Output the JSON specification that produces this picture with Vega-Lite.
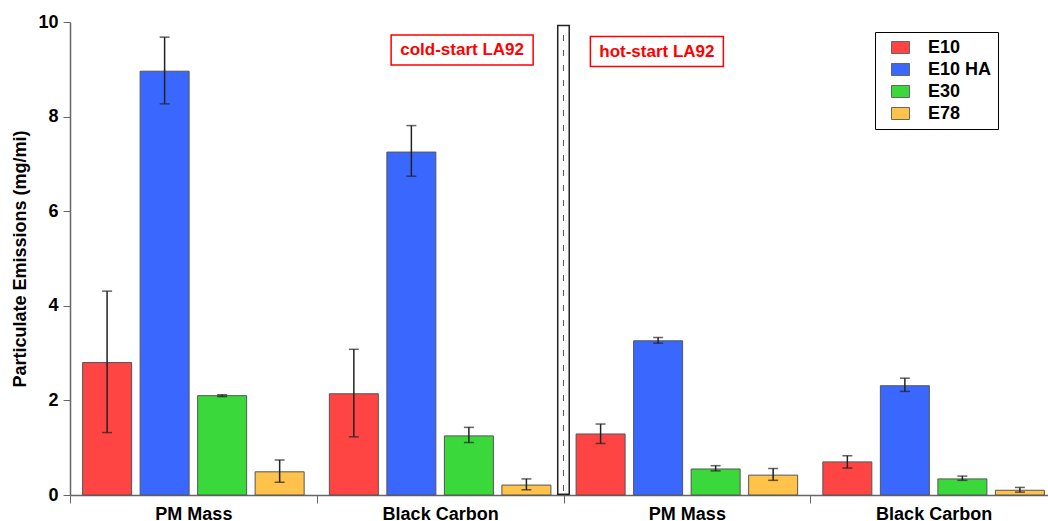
{
  "$schema": "https://vega.github.io/schema/vega-lite/v6.json",
  "autosize": {"type": "none"},
  "padding": {"left": 70, "top": 22, "right": 0, "bottom": 26},
  "width": 978,
  "height": 473,
  "background": "white",
  "config": {"font": "Liberation Sans", "view": {"stroke": null}},
  "data": {"values": [
    {"g": "cold PM", "fuel": "E10", "v": 2.80, "lo": 1.32, "hi": 4.31},
    {"g": "cold PM", "fuel": "E10 HA", "v": 8.96, "lo": 8.27, "hi": 9.68},
    {"g": "cold PM", "fuel": "E30", "v": 2.10, "lo": 2.08, "hi": 2.12},
    {"g": "cold PM", "fuel": "E78", "v": 0.49, "lo": 0.27, "hi": 0.74},
    {"g": "cold BC", "fuel": "E10", "v": 2.14, "lo": 1.23, "hi": 3.08},
    {"g": "cold BC", "fuel": "E10 HA", "v": 7.25, "lo": 6.74, "hi": 7.81},
    {"g": "cold BC", "fuel": "E30", "v": 1.25, "lo": 1.11, "hi": 1.43},
    {"g": "cold BC", "fuel": "E78", "v": 0.21, "lo": 0.11, "hi": 0.34},
    {"g": "hot PM", "fuel": "E10", "v": 1.29, "lo": 1.09, "hi": 1.50},
    {"g": "hot PM", "fuel": "E10 HA", "v": 3.26, "lo": 3.21, "hi": 3.33},
    {"g": "hot PM", "fuel": "E30", "v": 0.55, "lo": 0.51, "hi": 0.62},
    {"g": "hot PM", "fuel": "E78", "v": 0.42, "lo": 0.31, "hi": 0.56},
    {"g": "hot BC", "fuel": "E10", "v": 0.70, "lo": 0.57, "hi": 0.83},
    {"g": "hot BC", "fuel": "E10 HA", "v": 2.31, "lo": 2.19, "hi": 2.47},
    {"g": "hot BC", "fuel": "E30", "v": 0.34, "lo": 0.31, "hi": 0.40},
    {"g": "hot BC", "fuel": "E78", "v": 0.10, "lo": 0.06, "hi": 0.16}
  ]},
  "encoding": {
    "x": {
      "field": "g", "type": "nominal",
      "sort": ["cold PM", "cold BC", "hot PM", "hot BC"],
      "scale": {"range": [0, 987], "paddingInner": 0, "paddingOuter": 0},
      "axis": {
        "title": null,
        "labelExpr": "(datum.value == 'cold PM' || datum.value == 'hot PM') ? 'PM Mass' : ((datum.value == 'cold BC' || datum.value == 'hot BC') ? 'Black Carbon' : '')",
        "labelFontSize": 18, "labelFontWeight": "bold", "labelColor": "black",
        "labelAngle": 0, "labelPadding": 2,
        "tickBand": "extent", "tickSize": 8, "tickColor": "#666",
        "domainColor": "#666", "domainWidth": 1.5
      }
    }
  },
  "layer": [
    {
      "mark": {"type": "bar", "stroke": "#555", "strokeWidth": 1},
      "encoding": {
        "xOffset": {"field": "fuel", "type": "nominal", "sort": ["E10", "E10 HA", "E30", "E78"],
          "scale": {"paddingInner": 0.148, "paddingOuter": 0.219}},
        "y": {
          "field": "v", "type": "quantitative",
          "scale": {"domain": [0, 10], "nice": false},
          "axis": {
            "title": "Particulate Emissions (mg/mi)",
            "titleFontSize": 18, "titleFontWeight": "bold", "titleColor": "black", "titlePadding": 8,
            "values": [0, 2, 4, 6, 8, 10],
            "labelFontSize": 18, "labelFontWeight": "bold", "labelColor": "black", "labelPadding": 5,
            "tickSize": 7, "tickColor": "#666", "domainColor": "#666", "domainWidth": 1.5,
            "grid": false
          }
        },
        "color": {
          "field": "fuel", "type": "nominal",
          "scale": {"domain": ["E10", "E10 HA", "E30", "E78"], "range": ["#ff4444", "#3a68ff", "#3ad83a", "#ffc24a"]},
          "legend": {
            "title": null, "orient": "none", "legendX": 805, "legendY": 10,
            "strokeColor": "black", "fillColor": "white", "padding": 6,
            "symbolType": "M-1,-0.667H1V0.667H-1Z", "symbolSize": 324, "symbolOffset": 10,
            "symbolStrokeColor": "#666", "symbolStrokeWidth": 1, "symbolOpacity": 1,
            "labelFontSize": 18, "labelFontWeight": "bold", "labelColor": "black",
            "labelOffset": 18, "rowPadding": 3
          }
        }
      }
    },
    {
      "mark": {"type": "rule", "color": "#222", "strokeWidth": 1.5},
      "encoding": {
        "xOffset": {"field": "fuel", "type": "nominal", "sort": ["E10", "E10 HA", "E30", "E78"]},
        "y": {"field": "lo", "type": "quantitative"},
        "y2": {"field": "hi"}
      }
    },
    {
      "mark": {"type": "tick", "color": "#222", "size": 10, "thickness": 1.5},
      "encoding": {
        "xOffset": {"field": "fuel", "type": "nominal", "sort": ["E10", "E10 HA", "E30", "E78"]},
        "y": {"field": "lo", "type": "quantitative"}
      }
    },
    {
      "mark": {"type": "tick", "color": "#222", "size": 10, "thickness": 1.5},
      "encoding": {
        "xOffset": {"field": "fuel", "type": "nominal", "sort": ["E10", "E10 HA", "E30", "E78"]},
        "y": {"field": "hi", "type": "quantitative"}
      }
    },
    {
      "data": {"values": [{"g": "hot PM", "lo": 0, "hi": 9.94}]},
      "layer": [
        {"mark": {"type": "rule", "color": "#222", "strokeWidth": 13, "xOffset": -123.4},
         "encoding": {"y": {"field": "lo", "type": "quantitative"}, "y2": {"field": "hi"}}},
        {"mark": {"type": "rule", "color": "white", "strokeWidth": 10, "xOffset": -123.4, "yOffset": -1.5, "y2Offset": 1.5},
         "encoding": {"y": {"field": "lo", "type": "quantitative"}, "y2": {"field": "hi"}}},
        {"mark": {"type": "rule", "color": "#555", "strokeWidth": 1, "strokeDash": [6, 9], "xOffset": -123.4, "yOffset": -4, "y2Offset": 4},
         "encoding": {"y": {"field": "lo", "type": "quantitative"}, "y2": {"field": "hi"}}}
      ]
    },
    {
      "data": {"values": [{"g": "cold BC", "label": "cold-start LA92", "pos": 9.41}]},
      "layer": [
        {"mark": {"type": "point", "filled": true, "shape": "M-1,-0.2113H1V0.2113H-1Z", "size": 20164, "fill": "white", "stroke": "#ff0000", "strokeWidth": 1.5, "opacity": 1, "xOffset": 22},
         "encoding": {"y": {"field": "pos", "type": "quantitative"}}},
        {"mark": {"type": "text", "color": "#ff0000", "fontSize": 17, "fontWeight": "bold", "align": "center", "baseline": "middle", "xOffset": 22},
         "encoding": {"y": {"field": "pos", "type": "quantitative"}, "text": {"field": "label"}}}
      ]
    },
    {
      "data": {"values": [{"g": "hot PM", "label": "hot-start LA92", "pos": 9.376}]},
      "layer": [
        {"mark": {"type": "point", "filled": true, "shape": "M-1,-0.2256H1V0.2256H-1Z", "size": 17689, "fill": "white", "stroke": "#ff0000", "strokeWidth": 1.5, "opacity": 1, "xOffset": -30},
         "encoding": {"y": {"field": "pos", "type": "quantitative"}}},
        {"mark": {"type": "text", "color": "#ff0000", "fontSize": 17, "fontWeight": "bold", "align": "center", "baseline": "middle", "xOffset": -30},
         "encoding": {"y": {"field": "pos", "type": "quantitative"}, "text": {"field": "label"}}}
      ]
    }
  ]
}
